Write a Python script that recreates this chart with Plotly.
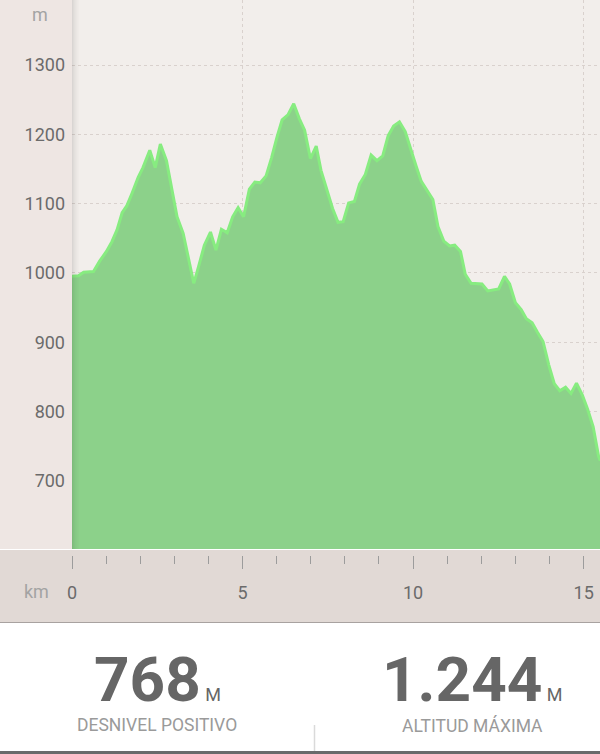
import plotly.graph_objects as go

# ---- data ----
distance_km = [0.00,0.19,0.34,0.63,0.81,1.01,1.17,1.32,1.47,1.61,
               1.76,1.94,2.08,2.28,2.44,2.59,2.77,2.93,3.08,3.26,
               3.40,3.57,3.71,3.88,4.06,4.22,4.38,4.55,4.71,4.87,
               5.03,5.20,5.36,5.52,5.69,5.85,6.01,6.16,6.33,6.50,
               6.67,6.82,6.99,7.16,7.30,7.48,7.64,7.80,7.95,8.11,
               8.28,8.43,8.60,8.77,8.94,9.11,9.27,9.43,9.60,9.77,
               9.92,10.09,10.24,10.41,10.58,10.73,10.90,11.07,11.22,11.39,
               11.53,11.70,11.86,12.02,12.19,12.35,12.51,12.68,12.83,13.00,
               13.17,13.32,13.49,13.65,13.81,13.98,14.14,14.30,14.47,14.63,
               14.79,14.96,15.12,15.28,15.44,15.49]
elevation_m = [995,996,1001,1002,1017,1031,1045,1062,1087,1097,
               1115,1138,1152,1177,1152,1186,1162,1122,1081,1057,
               1023,985,1009,1040,1059,1033,1063,1058,1081,1094,
               1081,1121,1131,1130,1140,1166,1196,1221,1228,1244,
               1222,1206,1165,1183,1148,1117,1093,1073,1074,1101,
               1103,1128,1142,1170,1162,1169,1198,1212,1218,1204,
               1179,1154,1132,1119,1106,1067,1046,1039,1040,1031,
               998,985,984,984,974,976,977,995,984,957,
               947,934,928,914,901,867,840,830,835,826,
               841,824,803,778,735,729]
y_ticks = [700, 800, 900, 1000, 1100, 1200, 1300]
x_ticks = [0, 5, 10, 15]
stat_values = ["768", "1.244"]
stat_units = ["M", "M"]
stat_labels = ["DESNIVEL POSITIVO", "ALTITUD MÁXIMA"]

# ---- layout geometry (pixels) ----
W, H = 600, 754
L, B = 72, 132          # margins
PW, PH = W - L, H - B   # plot area 528 x 622
def px_x(x):  # pixel x -> paper x
    return (x - L) / PW
def px_y(y):  # pixel y -> paper y
    return (PH - y) / PH

FONT = "Roboto"
fig = go.Figure()
fig.add_trace(go.Scatter(
    x=distance_km, y=elevation_m, mode="lines",
    line=dict(color="#87ec80", width=3),
    fill="tozeroy", fillcolor="#8cd18a",
    hoverinfo="skip", showlegend=False))

shapes = []
# left axis band
shapes.append(dict(type="rect", xref="paper", yref="paper",
                   x0=px_x(0), x1=px_x(L), y0=px_y(549), y1=px_y(0),
                   fillcolor="#eee6e3", line_width=0, layer="below"))
# bottom axis band
shapes.append(dict(type="rect", xref="paper", yref="paper",
                   x0=px_x(0), x1=px_x(W), y0=px_y(622), y1=px_y(550),
                   fillcolor="#e1d9d5", line_width=0, layer="below"))
# line under band
shapes.append(dict(type="line", xref="paper", yref="paper",
                   x0=px_x(0), x1=px_x(W), y0=px_y(622.5), y1=px_y(622.5),
                   line=dict(color="#a8a2a0", width=1)))
# shadow gradient at left plot edge
for i, op in enumerate([0.10, 0.08, 0.06, 0.045, 0.03, 0.02, 0.01]):
    shapes.append(dict(type="rect", xref="paper", yref="paper",
                       x0=px_x(L + i), x1=px_x(L + i + 1), y0=px_y(549), y1=px_y(0),
                       fillcolor="black", opacity=op, line_width=0, layer="above"))
# separator in stats
shapes.append(dict(type="line", xref="paper", yref="paper",
                   x0=px_x(314.5), x1=px_x(314.5), y0=px_y(751), y1=px_y(725),
                   line=dict(color="#dadada", width=1.5)))
# bottom dark strip
shapes.append(dict(type="rect", xref="paper", yref="paper",
                   x0=px_x(0), x1=px_x(W), y0=px_y(754), y1=px_y(751),
                   fillcolor="#6a6a6a", line_width=0))

def ann(text, cx, cy, size, color):
    return dict(text=text, xref="paper", yref="paper", x=px_x(cx), y=px_y(cy),
                xanchor="center", yanchor="middle", showarrow=False,
                font=dict(family=FONT, size=size, color=color))

annotations = [ann("m", 40, 15, 18, "#a3a3a3"), ann("km", 36, 591, 18, "#a3a3a3")]
stat_cx = [157, 472]
for cx, v, u, lab in zip(stat_cx, stat_values, stat_units, stat_labels):
    annotations.append(ann(f"<b>{v}</b><span style='font-size:18px'> {u}</span>", cx, 679, 62, "#666666"))
    annotations.append(ann(lab, cx, 725, 17.5, "#9a9a9a"))

fig.update_layout(
    width=W, height=H,
    margin=dict(l=L, r=0, t=0, b=B, pad=0),
    paper_bgcolor="#ffffff", plot_bgcolor="#f2eeeb",
    shapes=shapes, annotations=annotations, showlegend=False,
    xaxis=dict(range=[0, 15.48], anchor="free", position=px_y(555),
               tickmode="array", tickvals=x_ticks, ticktext=[str(t) for t in x_ticks],
               ticks="outside", ticklen=13, tickwidth=1, tickcolor="#9c9c9c",
               minor=dict(dtick=1, tick0=0, ticks="outside", ticklen=8, tickwidth=1, tickcolor="#9c9c9c", showgrid=False),
               showgrid=True, gridcolor="#d9d1cd", griddash="dot", gridwidth=1,
               showline=False, zeroline=False, fixedrange=True,
               tickfont=dict(family=FONT, size=18, color="#6b6b6b"), ticklabelstandoff=8),
    yaxis=dict(range=[601.6, 1393.8], domain=[px_y(549), 1],
               tickmode="array", tickvals=y_ticks,
               ticks="", showgrid=True, gridcolor="#d9d1cd", griddash="dot", gridwidth=1,
               showline=False, zeroline=False, fixedrange=True,
               tickfont=dict(family=FONT, size=18, color="#6b6b6b"), ticklabelstandoff=6),
)
fig.write_html("out.html", config={"displayModeBar": False},
               post_script="document.body.style.margin='0';document.body.style.overflow='hidden';")
